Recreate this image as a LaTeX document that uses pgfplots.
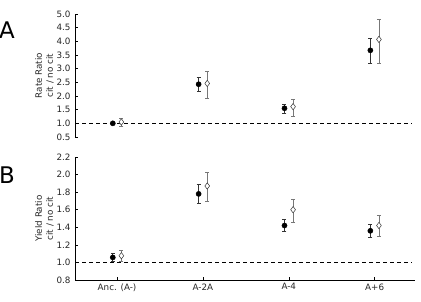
\documentclass[border=0pt]{standalone}
\usepackage{pgfplots}
\pgfplotsset{compat=1.18}
\usepackage{pgfplotstable}
\usepackage{fontspec}
\setmainfont{DejaVu Sans}

\pgfplotstableread{
x y ep em
-0.05 1.00 0.03 0.03
0.95 2.43 0.24 0.25
1.95 1.55 0.15 0.18
2.95 3.67 0.44 0.47
}\rateblack
\pgfplotstableread{
x y ep em
0.05 1.05 0.13 0.17
1.05 2.46 0.45 0.55
2.05 1.61 0.27 0.34
3.05 4.07 0.75 0.87
}\ratewhite
\pgfplotstableread{
x y ep em
-0.05 1.057 0.045 0.04
0.95 1.78 0.11 0.11
1.95 1.42 0.07 0.07
2.95 1.36 0.075 0.08
}\yieldblack
\pgfplotstableread{
x y ep em
0.05 1.076 0.065 0.066
1.05 1.87 0.15 0.17
2.05 1.60 0.12 0.14
3.05 1.42 0.12 0.12
}\yieldwhite

\definecolor{ebgray}{HTML}{777777}
\definecolor{ebdark}{HTML}{333333}

\pgfplotsset{
  common/.style={
    scale only axis, width=340bp, height=123bp,
    xmin=-0.49, xmax=3.47,
    tick align=inside,
    major tick length=3bp,
    tick style={black, line width=0.5pt},
    axis line style={black, line width=0.6pt},
    ticklabel style={font=\fontsize{8.8}{10}\selectfont, text=black!85},
    yticklabel style={xshift=-1bp},
    /pgf/number format/assume math mode=true,
    /pgf/number format/fixed, /pgf/number format/fixed zerofill,
    /pgf/number format/precision=1,
    ylabel style={font=\fontsize{8.8}{11}\selectfont, align=center, anchor=center, text=black!85},
    clip=false,
  },
  blk/.style={only marks, mark=*, mark size=2.6bp, mark options={fill=black, draw=black},
    error bars/.cd, y dir=both, y explicit,
    error bar style={ebdark, line width=0.7pt},
    error mark options={ebdark, line width=0.7pt, mark size=2bp, rotate=90}},
  wht/.style={only marks, mark=diamond*, mark size=3.2bp, mark options={fill=white, draw=ebdark, line width=0.5pt},
    error bars/.cd, y dir=both, y explicit,
    error bar style={ebgray, line width=0.7pt},
    error mark options={ebgray, line width=0.7pt, mark size=2bp, rotate=90}},
}

\begin{document}
\begin{tikzpicture}
\useasboundingbox (0,0) rectangle (421bp,302bp);
\node[anchor=west, font=\fontsize{23}{25}\selectfont, inner sep=0pt] at (-1bp,272bp) {A};
\node[anchor=west, font=\fontsize{23}{25}\selectfont, inner sep=0pt] at (-1bp,127bp) {B};

\begin{axis}[common,
  at={(75bp,165bp)}, anchor=south west,
  axis x line=none, axis y line*=left,
  ymin=0.5, ymax=5.0,
  ytick={0.5,1.0,...,5.0},
  ylabel={Rate Ratio\\cit / no cit},
  ylabel style={at={(axis description cs:-0.09,0.5)}},
]
\addplot[black, dashed, dash pattern=on 4bp off 3bp, line width=0.6pt] coordinates {(-0.49,1) (3.44,1)};
\addplot[blk] table[x=x, y=y, y error plus=ep, y error minus=em] {\rateblack};
\addplot[wht] table[x=x, y=y, y error plus=ep, y error minus=em] {\ratewhite};
\end{axis}

\begin{axis}[common,
  at={(75bp,22bp)}, anchor=south west,
  axis lines*=left,
  ymin=0.8, ymax=2.2,
  ytick={0.8,1.0,...,2.21},
  xtick={0,1,2,3},
  xticklabels={Anc. (A-), A-2A, A-4, A+6},
  ylabel={Yield Ratio\\cit / no cit},
  ylabel style={at={(axis description cs:-0.09,0.5)}},
]
\addplot[black, dashed, dash pattern=on 4bp off 3bp, line width=0.6pt] coordinates {(-0.49,1) (3.44,1)};
\addplot[blk] table[x=x, y=y, y error plus=ep, y error minus=em] {\yieldblack};
\addplot[wht] table[x=x, y=y, y error plus=ep, y error minus=em] {\yieldwhite};
\end{axis}
\end{tikzpicture}
\end{document}
